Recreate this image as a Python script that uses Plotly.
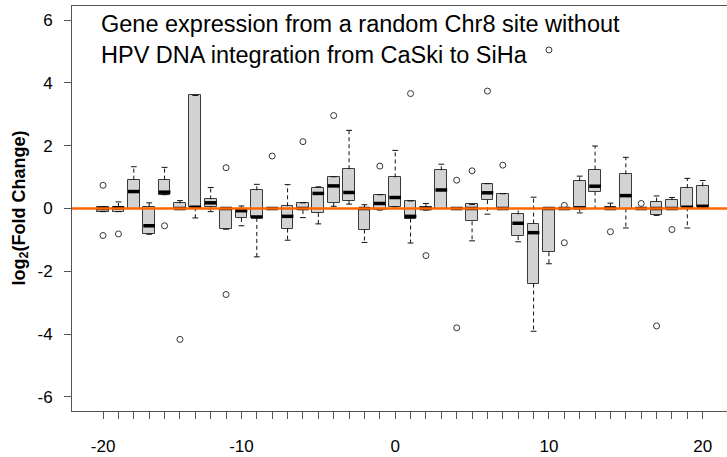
import plotly.graph_objects as go

# Box positions (one per window) and the labelled positions on the x axis
positions = list(range(1, 41))
tick_positions = [1, 10, 20, 30, 40]
tick_labels = ["-20", "-10", "0", "10", "20"]

# Five-number summaries per box: lower whisker, Q1, median, Q3, upper whisker
whisk_lo = [-0.10, -0.10, 0.00, -0.82, 0.44, -0.02, -0.30, -0.10, -0.66, -0.55,
            -1.54, 0.00, -1.01, -0.29, -0.49, 0.07, 0.14, -1.08, -0.05, 0.05,
            -1.10, -0.05, 0.00, 0.00, -1.03, -0.18, 0.00, -1.06, -3.91, -1.76,
            0.00, -0.14, 0.00, -0.02, -0.62, 0.00, -0.22, 0.00, -0.62, 0.05]
q1 = [-0.10, -0.10, 0.00, -0.80, 0.44, -0.02, 0.04, 0.05, -0.66, -0.30,
      -0.30, 0.00, -0.64, -0.05, -0.14, 0.18, 0.25, -0.67, -0.05, 0.05,
      -0.32, -0.05, 0.00, 0.00, -0.41, 0.27, 0.00, -0.88, -2.39, -1.39,
      0.00, 0.02, 0.54, -0.02, 0.00, 0.00, -0.22, 0.00, 0.04, 0.05]
median = [0.00, 0.02, 0.54, -0.55, 0.52, 0.00, 0.04, 0.18, 0.00, -0.07,
          -0.27, 0.00, -0.25, 0.00, 0.48, 0.72, 0.51, 0.00, 0.16, 0.35,
          -0.25, 0.00, 0.59, 0.00, 0.00, 0.50, 0.00, -0.47, -0.77, 0.00,
          0.00, 0.02, 0.71, 0.00, 0.41, 0.00, 0.00, 0.00, 0.04, 0.07]
q3 = [0.05, 0.05, 0.92, 0.05, 0.92, 0.16, 3.60, 0.29, 0.00, -0.05,
      0.58, 0.00, 0.07, 0.18, 0.65, 1.01, 1.25, 0.00, 0.44, 0.99,
      0.24, 0.04, 1.22, 0.03, 0.13, 0.79, 0.47, -0.19, -0.48, 0.02,
      0.00, 0.87, 1.24, 0.06, 1.09, 0.00, 0.22, 0.27, 0.65, 0.71]
whisk_hi = [0.05, 0.21, 1.33, 0.18, 1.31, 0.25, 3.60, 0.67, 0.00, 0.08,
            0.77, 0.00, 0.76, 0.18, 0.69, 1.01, 2.49, 0.12, 0.44, 1.85,
            0.24, 0.16, 1.41, 0.03, 0.13, 0.79, 0.47, 0.00, 0.36, 0.02,
            0.00, 1.03, 1.99, 0.17, 1.63, 0.00, 0.40, 0.35, 0.96, 0.89]

# Outlying points (box position, value)
outlier_pos = [1, 1, 2, 5, 6, 9, 9, 12, 14, 16, 19, 21, 22, 24, 24,
               25, 26, 27, 30, 31, 31, 34, 36, 37, 38]
outlier_val = [0.74, -0.86, -0.81, -0.55, -4.17, 1.30, -2.74, 1.67, 2.13, 2.96,
               1.35, 3.66, -1.50, 0.90, -3.80, 1.20, 3.74, 1.38, 5.05, 0.10,
               -1.09, -0.74, 0.16, -3.74, -0.67]

y_ticks = [-6, -4, -2, 0, 2, 4, 6]

title_text = ("Gene expression from a random Chr8 site without<br>"
              "HPV DNA integration from CaSki to SiHa")
y_title = "<b>log<sub>2</sub>(Fold Change)</b>"

BOX_HALF = 0.38
CAP_HALF = 0.19
FONT = "Arial, Liberation Sans, sans-serif"
AXIS_COL = "#555555"


def segments(xs_left, xs_right, ys_a, ys_b):
    sx, sy = [], []
    for xl, xr, ya, yb in zip(xs_left, xs_right, ys_a, ys_b):
        sx += [xl, xr, None]
        sy += [ya, yb, None]
    return sx, sy


fig = go.Figure()

# Boxes (Q1..Q3)
fig.add_trace(go.Bar(
    x=positions, y=[b - a for a, b in zip(q1, q3)], base=q1,
    width=2 * BOX_HALF,
    marker=dict(color="#D3D3D3", line=dict(color="#3a3a3a", width=1)),
    hoverinfo="skip", showlegend=False,
))

# Dashed whiskers
wx, wy = segments(positions, positions, q3, whisk_hi)
wx2, wy2 = segments(positions, positions, q1, whisk_lo)
fig.add_trace(go.Scatter(
    x=wx + wx2, y=wy + wy2, mode="lines",
    line=dict(color="#111111", width=1, dash="4px,3px"),
    hoverinfo="skip", showlegend=False,
))

# Whisker caps
left = [p - CAP_HALF for p in positions]
right = [p + CAP_HALF for p in positions]
cx, cy = segments(left, right, whisk_hi, whisk_hi)
cx2, cy2 = segments(left, right, whisk_lo, whisk_lo)
fig.add_trace(go.Scatter(
    x=cx + cx2, y=cy + cy2, mode="lines",
    line=dict(color="#111111", width=1),
    hoverinfo="skip", showlegend=False,
))

# Medians
mx, my = segments([p - BOX_HALF for p in positions],
                  [p + BOX_HALF for p in positions], median, median)
fig.add_trace(go.Scatter(
    x=mx, y=my, mode="lines",
    line=dict(color="#000000", width=3.5),
    hoverinfo="skip", showlegend=False,
))

# Outliers
fig.add_trace(go.Scatter(
    x=outlier_pos, y=outlier_val, mode="markers",
    marker=dict(symbol="circle-open", size=6, color="#333333",
                line=dict(width=1, color="#333333")),
    hoverinfo="skip", showlegend=False,
))

# Zero reference line
fig.add_shape(type="line", xref="paper", x0=0, x1=1, yref="y", y0=0, y1=0,
              line=dict(color="#FF6600", width=2.5), layer="above")

fig.update_layout(
    width=727, height=457, autosize=False,
    margin=dict(l=72, r=0, t=6, b=46),
    paper_bgcolor="white", plot_bgcolor="white",
    font=dict(family=FONT, color="#000000", size=17),
    bargap=0,
    xaxis=dict(
        range=[-1.02, 41.58], tickmode="array", tickvals=tick_positions,
        ticktext=tick_labels, ticks="outside", ticklen=7, tickwidth=1,
        tickcolor=AXIS_COL, showline=True, linecolor=AXIS_COL, linewidth=1,
        mirror=True, showgrid=False, zeroline=False,
        tickfont=dict(size=17), ticklabelstandoff=13,
        minor=dict(tickmode="array", tickvals=positions, ticks="outside",
                   ticklen=7, tickwidth=1, tickcolor=AXIS_COL,
                   showgrid=False),
    ),
    yaxis=dict(
        range=[-6.45, 6.45], tickmode="array",
        tickvals=y_ticks, ticktext=[str(v) for v in y_ticks],
        ticks="outside", ticklen=7, tickwidth=1, tickcolor=AXIS_COL,
        showline=True, linecolor=AXIS_COL, linewidth=1,
        showgrid=False, zeroline=False,
        tickfont=dict(size=17), ticklabelstandoff=8,
    ),
    annotations=[
        dict(text=title_text, xref="paper", yref="paper",
             x=(99 - 72) / 655, y=1 - 3 / 405, xanchor="left", yanchor="top",
             align="left", showarrow=False,
             font=dict(size=23.5, family=FONT, color="#000000")),
        dict(text=y_title, xref="paper", yref="paper",
             x=(20 - 72) / 655, y=0.5, xanchor="center", yanchor="middle",
             textangle=-90, showarrow=False,
             font=dict(size=18, family=FONT, color="#000000")),
    ],
)

fig.write_html("out.html")
